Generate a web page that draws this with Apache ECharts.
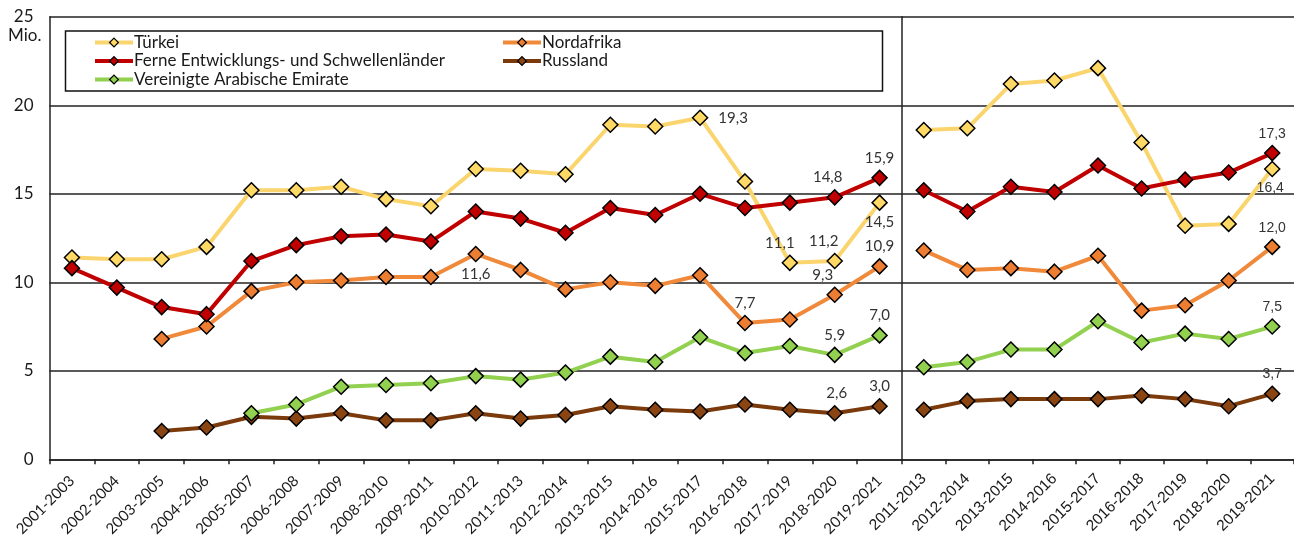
<!DOCTYPE html>
<html>
<head>
<meta charset="utf-8">
<script src="https://cdn.jsdelivr.net/npm/echarts@6/dist/echarts.min.js"></script>
<style>html,body{margin:0;padding:0;background:#fff}#c{width:1294px;height:543px}</style>
</head>
<body>
<div id="c"></div>
<script>
// ---- data ----
const categoriesLeft = ['2001-2003','2002-2004','2003-2005','2004-2006','2005-2007','2006-2008','2007-2009','2008-2010','2009-2011','2010-2012','2011-2013','2012-2014','2013-2015','2014-2016','2015-2017','2016-2018','2017-2019','2018-2020','2019-2021'];
const categoriesRight = ['2011-2013','2012-2014','2013-2015','2014-2016','2015-2017','2016-2018','2017-2019','2018-2020','2019-2021'];
const yTicks = [0, 5, 10, 15, 20, 25];

const tuerkeiLeft = [11.4,11.3,11.3,12.0,15.2,15.2,15.4,14.7,14.3,16.4,16.3,16.1,18.9,18.8,19.3,15.7,11.1,11.2,14.5];
const ferneLeft   = [10.8,9.7,8.6,8.2,11.2,12.1,12.6,12.7,12.3,14.0,13.6,12.8,14.2,13.8,15.0,14.2,14.5,14.8,15.9];
const nordLeft    = [null,null,6.8,7.5,9.5,10.0,10.1,10.3,10.3,11.6,10.7,9.6,10.0,9.8,10.4,7.7,7.9,9.3,10.9];
const vaeLeft     = [null,null,null,null,2.6,3.1,4.1,4.2,4.3,4.7,4.5,4.9,5.8,5.5,6.9,6.0,6.4,5.9,7.0];
const russLeft    = [null,null,1.6,1.8,2.4,2.3,2.6,2.2,2.2,2.6,2.3,2.5,3.0,2.8,2.7,3.1,2.8,2.6,3.0];

const tuerkeiRight = [18.6,18.7,21.2,21.4,22.1,17.9,13.2,13.3,16.4];
const ferneRight   = [15.2,14.0,15.4,15.1,16.6,15.3,15.8,16.2,17.3];
const nordRight    = [11.8,10.7,10.8,10.6,11.5,8.4,8.7,10.1,12.0];
const vaeRight     = [5.2,5.5,6.2,6.2,7.8,6.6,7.1,6.8,7.5];
const russRight    = [2.8,3.3,3.4,3.4,3.4,3.6,3.4,3.0,3.7];

const seriesNames = ['Türkei','Nordafrika','Ferne Entwicklungs- und Schwellenländer','Russland','Vereinigte Arabische Emirate'];

// ---- styles ----
const lineColors   = ['#FAD56E','#F0893A','#C00000','#7A3A0C','#92D050'];
const markerColors = ['#FFD966','#ED7D31','#C00000','#8B4513','#92D050'];

// which points carry a value label: index -> [position, offsetX]
const labelsLeft = [
  {14:['right',0],16:['top',-10],17:['top',-11],18:['bottom',0]},
  {9:['bottom',0],15:['top',0],17:['top',-12],18:['top',0]},
  {17:['top',-7],18:['top',0]},
  {17:['top',2],18:['top',0]},
  {17:['top',0],18:['top',0]}
];
const labelsRight = [
  {8:['bottom',-2]},
  {8:['top',0]},
  {8:['top',0]},
  {8:['top',0]},
  {8:['top',0]}
];
const leftData  = [tuerkeiLeft, nordLeft, ferneLeft, russLeft, vaeLeft];
const rightData = [tuerkeiRight, nordRight, ferneRight, russRight, vaeRight];

const fmt = v => v.toFixed(1).replace('.', ',');

function buildData(arr, lab, font, size) {
  return arr.map((v, i) => {
    if (v === null) return null;
    if (lab[i]) {
      return { value: v, label: { show: true, position: lab[i][0], offset: [lab[i][1], 0],
        distance: lab[i][0] === 'right' ? 10 : 4,
        formatter: p => fmt(p.value), fontFamily: font, fontSize: size, color: '#333' } };
    }
    return v;
  });
}

const series = [];
for (let k = 0; k < 5; k++) {
  [[leftData[k], labelsLeft[k], 0, 'Lato', 15], [rightData[k], labelsRight[k], 1, 'Liberation Sans', 14]].forEach(([arr, lab, gi, font, size]) => {
    series.push({
      name: seriesNames[k], type: 'line', xAxisIndex: gi, yAxisIndex: gi,
      data: buildData(arr, lab, font, size),
      symbol: 'diamond', symbolSize: 15,
      lineStyle: { color: lineColors[k], width: 4 },
      itemStyle: { color: markerColors[k], borderColor: '#000', borderWidth: 1.5 },
      emphasis: { disabled: true },
      z: 2 + k, animation: false
    });
  });
}

const axisLine = { show: true, lineStyle: { color: '#222', width: 1.5 } };
const gridTop = 16.8, gridH = 442.5;
const legendCommon = { orient: 'vertical', itemGap: 1.5, itemWidth: 38, itemHeight: 11,
  lineStyle: { width: 4 }, itemStyle: { borderWidth: 1.2 },
  textStyle: { fontFamily: 'Lato', fontSize: 17, color: '#1a1a1a', padding: [0,0,0,-4] } };

const option = {
  backgroundColor: '#fff',
  animation: false,
  grid: [
    { left: 49.5, top: gridTop, width: 852.5, height: gridH, containLabel: false },
    { left: 902, top: gridTop, width: 396, height: gridH, containLabel: false }
  ],
  legend: [
    Object.assign({ left: 88, top: 29, data: [seriesNames[0], seriesNames[2], seriesNames[4]] }, legendCommon),
    Object.assign({ left: 496, top: 29, data: [seriesNames[1], seriesNames[3]] }, legendCommon)
  ],
  graphic: [
    { type: 'rect', shape: { x: 65.5, y: 31, width: 817, height: 60 },
      style: { fill: 'none', stroke: '#111', lineWidth: 1.5 }, z: 10 }
  ],
  xAxis: [
    { type: 'category', gridIndex: 0, data: categoriesLeft, boundaryGap: true,
      axisLine: axisLine, axisTick: { show: true, length: 5, lineStyle: { color: '#222', width: 1.5 } },
      axisLabel: { rotate: 45, interval: 0, margin: 19, fontFamily: 'Lato', fontSize: 15, color: '#1a1a1a' } },
    { type: 'category', gridIndex: 1, data: categoriesRight, boundaryGap: true,
      axisLine: axisLine, axisTick: { show: true, length: 5, lineStyle: { color: '#222', width: 1.5 } },
      axisLabel: { rotate: 45, interval: 0, margin: 17, fontFamily: 'Liberation Sans', fontSize: 15.5, color: '#1a1a1a' } }
  ],
  yAxis: [
    { type: 'value', gridIndex: 0, min: yTicks[0], max: yTicks[yTicks.length-1], interval: 5,
      name: 'Mio.', nameLocation: 'end', nameGap: -27,
      nameTextStyle: { fontFamily: 'Lato', fontSize: 17, color: '#1a1a1a', align: 'right', padding: [0, 8, 0, 0] },
      axisLine: axisLine, axisTick: { show: false },
      axisLabel: { margin: 16, fontFamily: 'Lato', fontSize: 17, color: '#1a1a1a' },
      splitLine: { show: true, lineStyle: { color: '#222', width: 1.5 } } },
    { type: 'value', gridIndex: 1, min: yTicks[0], max: yTicks[yTicks.length-1], interval: 5,
      axisLine: axisLine, axisTick: { show: false }, axisLabel: { show: false },
      splitLine: { show: true, lineStyle: { color: '#222', width: 1.5 } } }
  ],
  series: series
};

const chart = echarts.init(document.getElementById('c'), null, { renderer: 'canvas' });
chart.setOption(option);
</script>
</body>
</html>
